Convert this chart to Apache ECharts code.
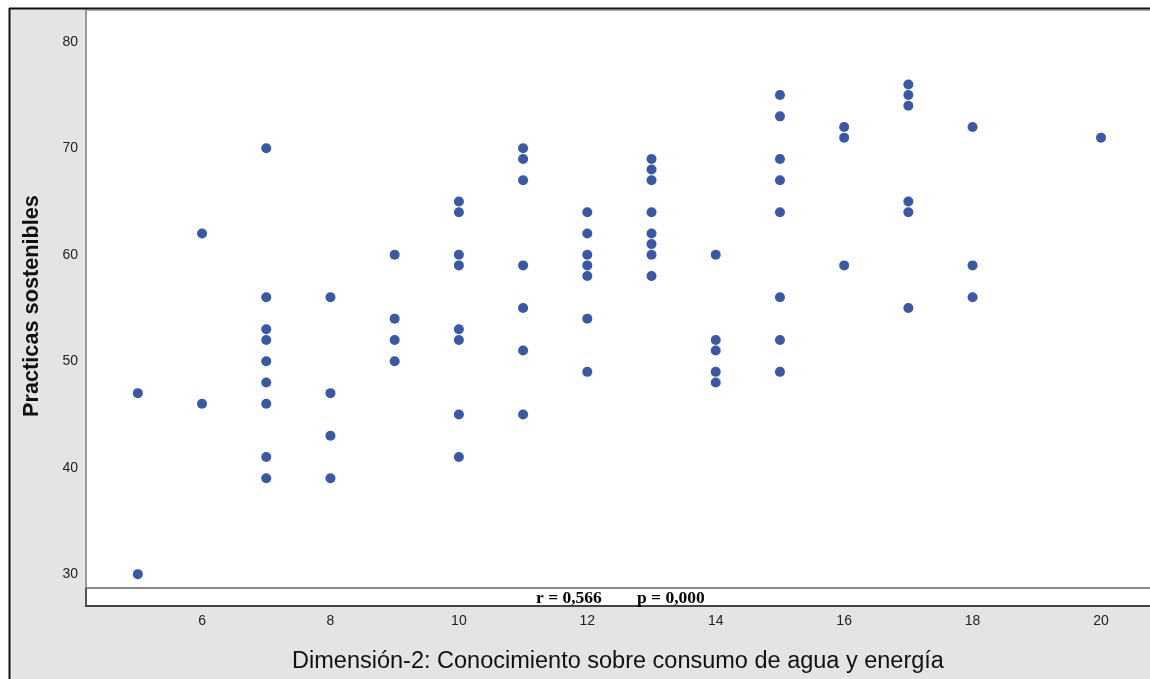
<!DOCTYPE html>
<html>
<head>
<meta charset="utf-8">
<script src="https://cdn.jsdelivr.net/npm/echarts@6/dist/echarts.min.js"></script>
<style>
html,body{margin:0;padding:0;background:#fff;}
#chart{width:1150px;height:679px;}
</style>
</head>
<body>
<div id="chart"></div>
<script>
// Data
const xLevels = [5, 6, 7, 8, 9, 10, 11, 12, 13, 14, 15, 16, 17, 18, 20];
const yByLevel = [
  [47, 30],
  [62, 46],
  [70, 56, 53, 52, 50, 48, 46, 41, 39],
  [56, 47, 43, 39],
  [60, 54, 52, 50],
  [65, 64, 60, 59, 53, 52, 45, 41],
  [70, 69, 67, 59, 55, 51, 45],
  [64, 62, 60, 59, 58, 54, 49],
  [69, 68, 67, 64, 62, 61, 60, 58],
  [60, 52, 51, 49, 48],
  [75, 73, 69, 67, 64, 56, 52, 49],
  [72, 71, 59],
  [76, 75, 74, 65, 64, 55],
  [72, 59, 56],
  [71]
];
const xTicks = [6, 8, 10, 12, 14, 16, 18, 20];
const yTicks = [30, 40, 50, 60, 70, 80];
const xTitle = 'Dimensión-2: Conocimiento sobre consumo de agua y energía';
const yTitle = 'Practicas sostenibles';
const statsR = 'r = 0,566';
const statsP = 'p = 0,000';

const points = [];
xLevels.forEach((x, i) => yByLevel[i].forEach(y => points.push([x, y])));

const chart = echarts.init(document.getElementById('chart'), null, {renderer: 'canvas'});
const sans = 'Liberation Sans, Arial, sans-serif';
const serifBold = 'bold 17.5px "Liberation Serif", "Times New Roman", serif';
chart.setOption({
  backgroundColor: '#e4e4e4',
  animation: false,
  grid: {
    left: 86, right: 0, top: 10, bottom: 73,
    show: true, backgroundColor: '#ffffff', borderWidth: 0
  },
  xAxis: {
    type: 'value',
    min: 4.193, max: 20.763,
    splitLine: {show: false},
    axisTick: {show: false},
    axisLine: {show: true, onZero: false, lineStyle: {color: '#444', width: 2}},
    axisLabel: {
      customValues: xTicks,
      color: '#222', fontSize: 14, fontFamily: sans, margin: 12
    },
    name: xTitle,
    nameLocation: 'middle',
    nameGap: 48,
    nameTextStyle: {color: '#111', fontSize: 23.5, fontFamily: sans}
  },
  yAxis: {
    type: 'value',
    min: 27.383, max: 82.99,
    splitLine: {show: false},
    axisTick: {show: false},
    axisLine: {show: true, onZero: false, lineStyle: {color: '#999', width: 2}},
    axisLabel: {
      customValues: yTicks,
      color: '#222', fontSize: 14, fontFamily: sans, margin: 8
    },
    name: yTitle,
    nameLocation: 'middle',
    nameGap: 43,
    nameTextStyle: {color: '#111', fontSize: 21.7, fontWeight: 'bold', fontFamily: sans}
  },
  series: [{
    type: 'scatter',
    data: points,
    symbol: 'circle',
    symbolSize: 10,
    itemStyle: {color: '#3a58a8', opacity: 1}
  }],
  graphic: [
    {type: 'rect', shape: {x: 0, y: 0, width: 9, height: 679}, style: {fill: '#fff'}, z: 100},
    {type: 'rect', shape: {x: 0, y: 0, width: 1150, height: 8}, style: {fill: '#fff'}, z: 100},
    {type: 'line', shape: {x1: 9.5, y1: 8, x2: 9.5, y2: 679}, style: {stroke: '#111', lineWidth: 2}, z: 101},
    {type: 'line', shape: {x1: 9, y1: 8.5, x2: 1150, y2: 8.5}, style: {stroke: '#111', lineWidth: 2}, z: 101},
    {type: 'line', shape: {x1: 86, y1: 10.5, x2: 1150, y2: 10.5}, style: {stroke: '#aaa', lineWidth: 1}, z: 101},
    {type: 'rect', shape: {x: 86, y: 588, width: 1064, height: 18}, style: {fill: '#fff'}, z: 100},
    {type: 'line', shape: {x1: 85, y1: 588, x2: 1150, y2: 588}, style: {stroke: '#8a8a8a', lineWidth: 2}, z: 101},
    {type: 'line', shape: {x1: 86, y1: 588, x2: 86, y2: 607}, style: {stroke: '#555', lineWidth: 2}, z: 101},
    {type: 'line', shape: {x1: 85, y1: 606, x2: 1150, y2: 606}, style: {stroke: '#444', lineWidth: 2}, z: 101},
    {type: 'text', x: 536, y: 598, style: {text: statsR, fill: '#000', font: serifBold, textVerticalAlign: 'middle'}, z: 102},
    {type: 'text', x: 637, y: 598, style: {text: statsP, fill: '#000', font: serifBold, textVerticalAlign: 'middle'}, z: 102}
  ]
});
</script>
</body>
</html>
